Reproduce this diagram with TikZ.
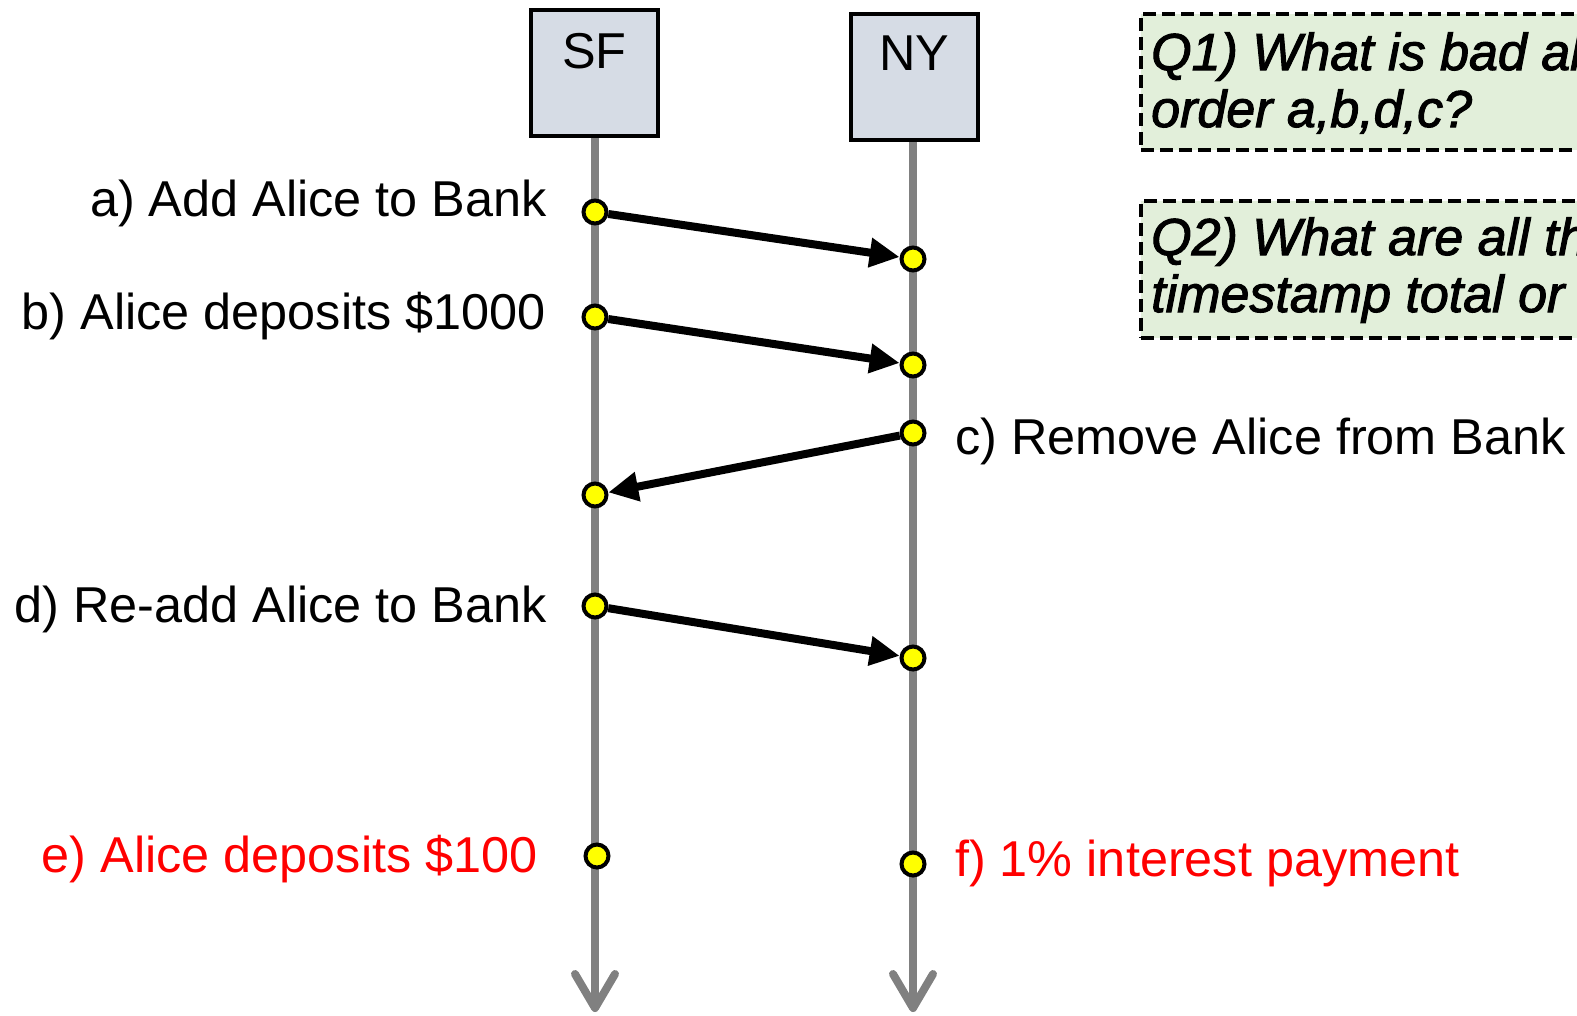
\documentclass[tikz,border=0pt]{standalone}
\usepackage{fontspec}
\setmainfont{Liberation Sans}
\newfontfamily\qfont[FakeBold=2]{Liberation Sans}
\usetikzlibrary{arrows.meta,calc}
\definecolor{boxfill}{RGB}{214,220,229}
\definecolor{qfill}{RGB}{226,239,218}
\definecolor{dotyellow}{RGB}{255,255,0}
\definecolor{lifegray}{RGB}{128,128,128}
\definecolor{redtxt}{RGB}{255,0,0}
\begin{document}
\begin{tikzpicture}[x=1pt,y=-1pt,
  bigtext/.style={font=\fontsize{50.4}{60}\selectfont, inner sep=0pt},
  procbox/.style={draw=black, line width=4pt, fill=boxfill, minimum width=127pt, minimum height=126pt, inner sep=0pt},
  lifeline/.style={draw=lifegray, line width=8pt},
  chevron/.style={draw=lifegray, line width=8pt, line cap=round, line join=round},
  evdot/.style={circle, draw=black, line width=4pt, fill=dotyellow, minimum size=23pt, inner sep=0pt},
  msg/.style={draw=black, line width=8pt, -{Triangle[length=30pt,width=28pt]}},
  qbox/.style={draw=black, line width=4.5pt, dash pattern=on 13pt off 6pt, fill=qfill, inner sep=0pt, anchor=north west},
  qtext/.style={font=\qfont\fontsize{52}{60}\selectfont\itshape, inner sep=0pt, anchor=base west},
  lab/.style={bigtext, anchor=base east},
  labr/.style={bigtext, anchor=base west},
]
\useasboundingbox (0,0) rectangle (1577,1015);
\clip (0,0) rectangle (1577,1015);

% lifelines
\coordinate (sfend) at (595,1008);
\coordinate (nyend) at (913,1008);
\coordinate (sftop) at (595,136);
\coordinate (nytop) at (913,138);
\draw[lifeline] (sftop) -- (sfend);
\draw[lifeline] (nytop) -- (nyend);
\draw[chevron] ($(sfend)+(-20,-34)$) -- (sfend) -- ($(sfend)+(20,-34)$);
\draw[chevron] ($(nyend)+(-20,-34)$) -- (nyend) -- ($(nyend)+(20,-34)$);

% process boxes
\node[procbox] (sf) at (594.5,73) {};
\node[bigtext, anchor=base] (sftxt) at (594.5,68) {SF};
\node[procbox] (ny) at (914,76.5) {};
\node[bigtext, anchor=base] (nytxt) at (914,70) {NY};

% question boxes
\node[qbox, minimum width=500pt, minimum height=136pt] (q1) at (1138.5,11.5) {};
\node[qtext] (q1a) at (1151,70) {Q1) What is bad al};
\node[qtext] (q1b) at (1151,127) {order a,b,d,c?};
\node[qbox, minimum width=500pt, minimum height=137pt] (q2) at (1138.5,198.5) {};
\node[qtext] (q2a) at (1151,255) {Q2) What are all th};
\node[qtext] (q2b) at (1151,312) {timestamp total or};

% event dots
\node[evdot] (a1) at (595,212) {};
\node[evdot] (a2) at (913,259) {};
\node[evdot] (b1) at (595,317) {};
\node[evdot] (b2) at (913,365) {};
\node[evdot] (c1) at (913,433) {};
\node[evdot] (c2) at (595,495) {};
\node[evdot] (d1) at (595,606) {};
\node[evdot] (d2) at (913,658) {};
\node[evdot] (e1) at (597,856) {};
\node[evdot] (f1) at (913,864) {};

% messages
\draw[msg] (a1) -- (a2);
\draw[msg] (b1) -- (b2);
\draw[msg] (c1) -- (c2);
\draw[msg] (d1) -- (d2);

% labels
\node[lab] (la) at (547,216) {a) Add Alice to Bank};
\node[lab] (lb) at (546,329) {b) Alice deposits \$1000};
\node[labr] (lc) at (955,454) {c) Remove Alice from Bank};
\node[lab] (ld) at (547,622) {d) Re-add Alice to Bank};
\node[lab, text=redtxt] (le) at (538,872) {e) Alice deposits \$100};
\node[labr, text=redtxt] (lf) at (955,876) {f) 1\% interest payment};
\end{tikzpicture}
\end{document}
